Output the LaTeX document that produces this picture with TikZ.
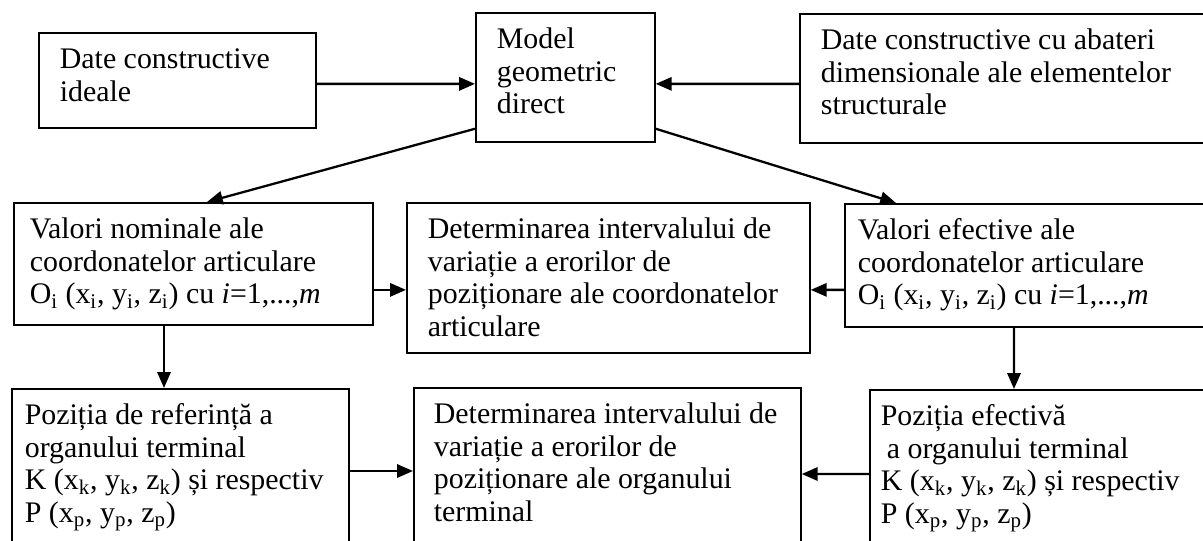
\documentclass[tikz,border=0pt]{standalone}
\usepackage{fontspec}
\setmainfont{Liberation Serif}
\usetikzlibrary{arrows.meta}

% box text: height, width, left inset, lines
\newcommand{\boxlines}[4]{\parbox[c][#1][t]{#2}{\raggedright\leftskip=#3\relax\rule{0pt}{0.72cm}#4}}

\begin{document}
\begin{tikzpicture}[
	blk/.style = {draw, line width = 1pt, inner sep = 0pt, anchor = north west,
		font = \fontsize{17pt}{18.5pt}\selectfont},
	arr/.style = {-{Triangle[length = 9pt, width = 7.5pt]}, line width = 1.3pt}
	]
	%	frame
	\path[use as bounding box, clip] (0, 0) rectangle (24.06, -10.82);
	
	%	top row
	\node[blk] (ideal) at (0.76, -0.64) {\boxlines{1.90cm}{5.54cm}{0.42cm}{Date constructive\\ideale}};
	\node[blk] (model) at (9.50, -0.24) {\boxlines{2.58cm}{3.58cm}{0.42cm}{Model\\geometric\\direct}};
	\node[blk] (abateri) at (15.98, -0.26) {\boxlines{2.58cm}{8.32cm}{0.42cm}{Date constructive cu abateri\\dimensionale ale elementelor\\structurale}};
	
	%	middle row
	\node[blk] (nominal) at (0.26, -4.04) {\boxlines{2.44cm}{7.18cm}{0.32cm}{Valori nominale ale\\coordonatelor articulare\\O\textsubscript{i} (x\textsubscript{i}, y\textsubscript{i}, z\textsubscript{i}) cu \textit{i}=1,...,\textit{m}}};
	\node[blk] (erartic) at (8.12, -4.04) {\boxlines{3.00cm}{8.06cm}{0.42cm}{Determinarea intervalului de\\variație a erorilor de\\poziționare ale coordonatelor\\articulare}};
	\node[blk] (efectiv) at (16.88, -4.06) {\boxlines{2.46cm}{7.42cm}{0.26cm}{Valori efective ale\\coordonatelor articulare\\O\textsubscript{i} (x\textsubscript{i}, y\textsubscript{i}, z\textsubscript{i}) cu \textit{i}=1,...,\textit{m}}};
	
	%	bottom row
	\node[blk] (pozref) at (0.22, -7.76) {\boxlines{3.44cm}{6.74cm}{0.26cm}{Poziția de referință a\\organului terminal\\K (x\textsubscript{k}, y\textsubscript{k}, z\textsubscript{k}) și respectiv\\P (x\textsubscript{p}, y\textsubscript{p}, z\textsubscript{p})}};
	\node[blk] (erterm) at (8.26, -7.74) {\boxlines{3.46cm}{7.74cm}{0.40cm}{Determinarea intervalului de\\variație a erorilor de\\poziționare ale organului\\terminal}};
	\node[blk] (pozef) at (17.38, -7.78) {\boxlines{3.42cm}{6.92cm}{0.22cm}{Poziția efectivă\\\hspace*{0.12cm}a organului terminal\\K (x\textsubscript{k}, y\textsubscript{k}, z\textsubscript{k}) și respectiv\\P (x\textsubscript{p}, y\textsubscript{p}, z\textsubscript{p})}};
	
	%	arrows
	\draw[arr] ([yshift = -0.07cm]ideal.east) -- ([yshift = -0.13cm]model.west);
	\draw[arr] ([yshift = -0.11cm]abateri.west) -- ([yshift = -0.13cm]model.east);
	\draw[arr] ([yshift = 0.28cm]model.south west) -- ([xshift = 3.88cm]nominal.north west);
	\draw[arr] ([yshift = 0.28cm]model.south east) -- ([xshift = 1.04cm]efectiv.north west);
	\draw[arr] ([yshift = -0.52cm]nominal.east) -- ([yshift = -0.24cm]erartic.west);
	\draw[arr] ([yshift = -0.49cm]efectiv.west) -- ([yshift = -0.24cm]erartic.east);
	\draw[arr] ([xshift = 3.02cm]nominal.south west) -- ([xshift = 3.06cm]pozref.north west);
	\draw[arr] ([xshift = 3.40cm]efectiv.south west) -- ([xshift = 2.90cm]pozef.north west);
	\draw[arr] ([yshift = -1.66cm]pozref.north east) -- ([yshift = -1.68cm]erterm.north west);
	\draw[arr] ([yshift = -1.70cm]pozef.north west) -- ([yshift = -1.74cm]erterm.north east);
\end{tikzpicture}
\end{document}
